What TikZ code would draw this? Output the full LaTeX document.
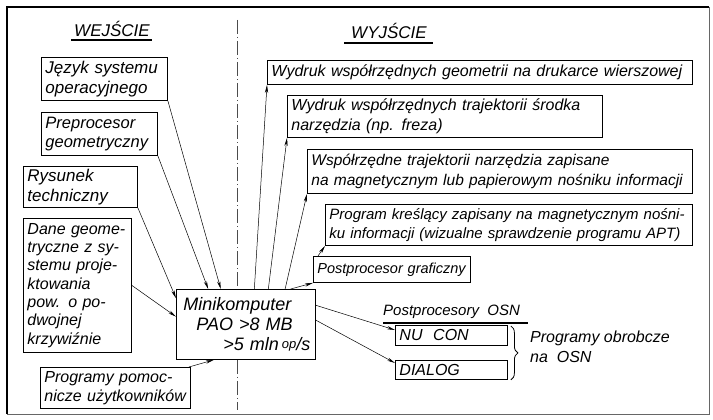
\documentclass[tikz,border=0pt]{standalone}
\usepackage{fontspec}
\setmainfont{Liberation Sans}
\usetikzlibrary{arrows.meta,calc,decorations.pathreplacing}
\begin{document}
\begin{tikzpicture}[x=1pt,y=-1pt,
  box/.style={draw, line width=0.9pt, anchor=north west, inner xsep=4pt, inner ysep=1pt,
              align=left, font=\itshape\fontsize{16}{19.5}\selectfont},
  arr/.style={line width=0.5pt, -{Stealth[length=8pt,width=3.2pt]}},
  lbl/.style={inner sep=0pt, align=left, font=\itshape\fontsize{16}{19.5}\selectfont},
  head/.style={inner sep=0pt, font=\itshape\fontsize{17}{20}\selectfont},
  axis/.style={line width=0.6pt, black!70, dash pattern=on 14pt off 3pt on 1pt off 3pt}]
\useasboundingbox (0,0) rectangle (713,420);
% frame
\draw[line width=0.8pt, black!60] (709,7) -- (709,414) -- (7,414);
\draw[line width=1.6pt] (7,414) -- (7,7) -- (709,7);
% headings
\node[head] (wej) at (112,29) {WEJŚCIE};
\draw[line width=2pt] (71,40) -- (152,40);
\node[head] (wyj) at (389,31) {WYJŚCIE};
\draw[line width=2pt] (344,43) -- (433,43);
% input boxes
\node[box, text width=118pt, minimum height=43pt, font=\itshape\fontsize{17}{19.5}\selectfont] (jezyk) at (41,57)
  {\mbox{Język systemu}\\\mbox{operacyjnego}};
\node[box, text width=108pt, minimum height=43pt, font=\itshape\fontsize{16.5}{19.5}\selectfont] (prep) at (41,112)
  {\mbox{Preprocesor}\\\mbox{geometryczny}};
\node[box, text width=106pt, minimum height=41pt, font=\itshape\fontsize{17}{19.5}\selectfont] (rys) at (23,166)
  {\mbox{Rysunek}\\\mbox{techniczny}};
\node[box, text width=100pt, minimum height=134pt, font=\itshape\fontsize{16}{18.3}\selectfont] (dane) at (23,218)
  {\mbox{Dane geome-}\\\mbox{tryczne z sy-}\\\mbox{stemu proje-}\\\mbox{ktowania}\\\mbox{pow. o po-}\\\mbox{dwojnej}\\\mbox{krzywiźnie}};
\node[box, text width=142pt, minimum height=41pt] (progpom) at (40,367)
  {\mbox{Programy pomoc-}\\\mbox{nicze użytkowników}};
% minicomputer
\node[box, inner xsep=2pt, text width=135pt, minimum height=70pt,
      font=\itshape\fontsize{18}{20}\selectfont] (mini) at (176,289)
  {\hspace*{5pt}Minikomputer\\\hspace*{18pt}PAO >8 MB\\\hspace*{45pt}\mbox{>5 mln\,\raisebox{2pt}{\fontsize{13}{13}\selectfont op}/s}};
% output boxes
\node[box, text width=417pt, minimum height=24pt] (out1) at (267,60)
  {\mbox{Wydruk współrzędnych geometrii na drukarce wierszowej}};
\node[box, text width=307pt, minimum height=42pt] (out2) at (287,95)
  {\mbox{Wydruk współrzędnych trajektorii środka}\\\mbox{narzędzia (np. freza)}};
\node[box, text width=377pt, minimum height=44pt, font=\itshape\fontsize{15.5}{19.5}\selectfont] (out3) at (307,149)
  {\mbox{Współrzędne trajektorii narzędzia zapisane}\\\mbox{na magnetycznym lub papierowym nośniku informacji}};
\node[box, text width=359pt, minimum height=41pt, font=\itshape\fontsize{15}{19.5}\selectfont] (out4) at (325,204)
  {\mbox{Program kreślący zapisany na magnetycznym nośni-}\\\mbox{ku informacji (wizualne sprawdzenie programu APT)}};
\node[box, text width=149pt, minimum height=26pt, font=\itshape\fontsize{14.5}{17}\selectfont] (out5) at (313,256)
  {\mbox{Postprocesor graficzny}};
% OSN
\node[lbl, anchor=south west, font=\itshape\fontsize{15}{18}\selectfont] (osnhead) at (383,319) {Postprocesory\ \ OSN};
\draw[line width=1.4pt] (383,323) -- (528,323);
\node[box, text width=104pt, minimum height=20pt] (nucon) at (395,325) {NU\ \ CON};
\node[box, text width=104pt, minimum height=19pt] (dialog) at (395,360) {DIALOG};
\draw[line width=0.8pt, decorate, decoration={brace, amplitude=7pt}]
  ($(nucon.north east)+(3pt,-1pt)$) -- ($(dialog.south east)+(3pt,0pt)$);
\node[lbl, anchor=west] (progosn) at (530,347) {Programy obrobcze\\na\ \ OSN};
% axis
\draw[axis] (237,20) -- (mini.north -| 237,0);
\draw[axis] (mini.south -| 237,0) -- (237,410);
% input arrows
\draw[arr] (jezyk.south east) -- ($(mini.north west)!0.32!(mini.north east)$);
\draw[arr] (prep.south east) -- ($(mini.north west)!0.23!(mini.north east)$);
\draw[arr] (rys.south east) -- ($(mini.north west)!0.13!(mini.south west)$);
\draw[arr] (dane.east) -- ($(mini.north west)!0.39!(mini.south west)$);
\draw[arr] ($(progpom.north east)+(-2pt,0pt)$) -- ($(mini.south west)!0.27!(mini.south east)$);
% output arrows
\draw[arr] ($(mini.north west)!0.56!(mini.north east)$) -- (out1.south west);
\draw[arr] ($(mini.north west)!0.66!(mini.north east)$) -- (out2.south west);
\draw[arr] ($(mini.north west)!0.78!(mini.north east)$) -- (out3.south west);
\draw[arr] ($(mini.north west)!0.82!(mini.north east)$) -- (out5.south west);
\draw[arr] ($(out5.north west)+(5pt,0pt)$) -- (out4.south west);
\draw[arr] ($(mini.north east)!0.23!(mini.south east)$) -- ($(nucon.north west)+(0pt,-5pt)$);
\draw[arr] ($(mini.north east)!0.44!(mini.south east)$) -- ($(dialog.north west)+(0pt,-3pt)$);
\end{tikzpicture}
\end{document}
